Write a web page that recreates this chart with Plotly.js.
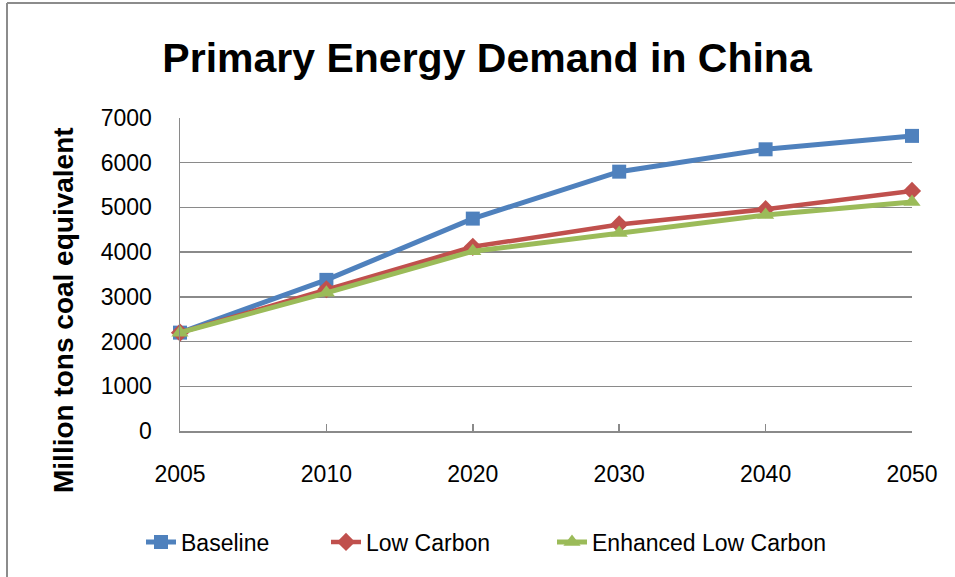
<!DOCTYPE html>
<html>
<head>
<meta charset="utf-8">
<script src="https://cdn.plot.ly/plotly-3.0.1.min.js"></script>
<style>
html,body{margin:0;padding:0;background:#fff;}
#chart{width:955px;height:577px;}
</style>
</head>
<body>
<div id="chart"></div>
<script>
const years = ["2005", "2010", "2020", "2030", "2040", "2050"];
const baseline = [2200, 3380, 4750, 5800, 6300, 6600];
const lowCarbon = [2200, 3170, 4120, 4620, 4960, 5370];
const enhancedLowCarbon = [2200, 3090, 4020, 4430, 4830, 5120];
const seriesNames = ["Baseline", "Low Carbon", "Enhanced Low Carbon"];
const yTicks = [0, 1000, 2000, 3000, 4000, 5000, 6000, 7000];

const FONT = "'Liberation Sans', Arial, sans-serif";
const GRID = "#8a8a8a";
const PLOT_L = 180, PLOT_W = 732, PLOT_B = 431, PLOT_H = 313;
const px = p => (p - PLOT_L) / PLOT_W;
const py = q => (PLOT_B - q) / PLOT_H;

const traces = [
  {x: years, y: baseline, name: seriesNames[0], type: "scatter", mode: "lines+markers", legend: "legend",
   line: {color: "#4F81BD", width: 5}, marker: {symbol: "square", size: 14, color: "#4F81BD"}, cliponaxis: false},
  {x: years, y: lowCarbon, name: seriesNames[1], type: "scatter", mode: "lines+markers", legend: "legend2",
   line: {color: "#C0504D", width: 4.5}, marker: {symbol: "diamond", size: 14, color: "#C0504D"}, cliponaxis: false},
  {x: years, y: enhancedLowCarbon, name: seriesNames[2], type: "scatter", mode: "lines+markers", legend: "legend3",
   line: {color: "#9BBB59", width: 5}, marker: {symbol: "triangle-up", size: 15, color: "#9BBB59"}, cliponaxis: false}
];

function legendAt(pixelX) {
  return {orientation: "h", x: px(pixelX), xanchor: "left", y: py(542), yanchor: "middle",
          font: {family: FONT, size: 23, color: "#000"}, bgcolor: "rgba(0,0,0,0)", borderwidth: 0};
}

const layout = {
  width: 955, height: 577,
  margin: {l: 180, r: 43, t: 118, b: 146},
  paper_bgcolor: "#fff", plot_bgcolor: "#fff",
  font: {family: FONT, color: "#000", size: 23},
  title: {text: "<b>Primary Energy Demand in China</b>", font: {family: FONT, size: 41, color: "#000"},
          x: 0.51, xref: "container", xanchor: "center", y: 0.9, yref: "container", yanchor: "middle"},
  xaxis: {type: "category", range: [0, 5], showgrid: false, showline: true, linecolor: GRID, linewidth: 1.5,
          ticks: "inside", ticklen: 7, tickcolor: GRID, tickwidth: 1.5,
          tickfont: {family: FONT, size: 23, color: "#000"}, ticklabelstandoff: 22, zeroline: false, fixedrange: true},
  yaxis: {range: [0, 7000], tickvals: yTicks, ticktext: yTicks.map(String), showgrid: true, gridcolor: GRID, gridwidth: 1.5,
          showline: true, linecolor: GRID, linewidth: 1.5, ticks: "", zeroline: false,
          tickfont: {family: FONT, size: 23, color: "#000"}, ticklabelstandoff: 22, fixedrange: true},
  showlegend: true,
  legend: legendAt(141),
  legend2: legendAt(326),
  legend3: legendAt(552),
  annotations: [
    {text: "<b>Million tons coal equivalent</b>", textangle: -90, xref: "paper", yref: "paper",
     x: px(63), y: py(310), xanchor: "center", yanchor: "middle", showarrow: false,
     font: {family: FONT, size: 28, color: "#000"}}
  ],
  shapes: [
    {type: "line", xref: "paper", yref: "paper", x0: px(7), x1: px(7), y0: py(580), y1: py(3),
     line: {color: "#8c8c8c", width: 2}},
    {type: "line", xref: "paper", yref: "paper", x0: px(7), x1: px(960), y0: py(3), y1: py(3),
     line: {color: "#8c8c8c", width: 2}}
  ]
};

Plotly.newPlot("chart", traces, layout, {displayModeBar: false, staticPlot: true});
</script>
</body>
</html>
